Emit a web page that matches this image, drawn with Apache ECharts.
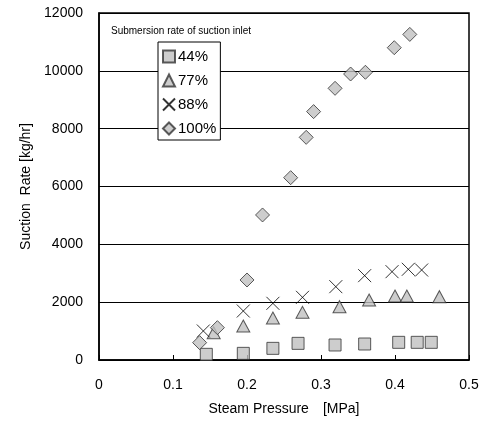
<!DOCTYPE html>
<html><head><meta charset="utf-8">
<script src="https://cdn.jsdelivr.net/npm/echarts@6/dist/echarts.min.js"></script>
<style>html,body{margin:0;padding:0;background:#fff}#c{width:483px;height:421px}</style>
</head><body><div id="c"></div>
<script>
const xTicks = [0, 0.1, 0.2, 0.3, 0.4, 0.5];
const yTicks = [0, 2000, 4000, 6000, 8000, 10000, 12000];
const s44 = [[0.145,196],[0.195,230],[0.235,403],[0.269,576],[0.319,519],[0.359,553],[0.405,611],[0.430,611],[0.449,611]];
const s77 = [[0.155,945],[0.195,1176],[0.235,1452],[0.275,1648],[0.325,1844],[0.365,2075],[0.400,2213],[0.416,2213],[0.460,2190]];
const s88 = [[0.141,1003],[0.195,1694],[0.235,1960],[0.275,2167],[0.320,2536],[0.359,2917],[0.396,3055],[0.418,3137],[0.436,3112]];
const s100 = [[0.136,600],[0.160,1118],[0.200,2767],[0.221,5015],[0.259,6305],[0.280,7700],[0.290,8590],[0.319,9395],[0.340,9890],[0.360,9950],[0.399,10800],[0.420,11260]];
const names = ['44%','77%','88%','100%'];

const font = 'Liberation Sans, Arial, sans-serif';
const gray = '#c0c0c0';
const crossPath = 'path://M0,0L10,10M10,0L0,10';
const chart = echarts.init(document.getElementById('c'));
chart.setOption({
  animation: false,
  grid: {left: 99, right: 14, top: 13, bottom: 61, show: true, borderColor: '#000', borderWidth: 1.5, backgroundColor: 'transparent'},
  xAxis: {
    type: 'value', min: 0, max: 0.5, interval: 0.1,
    name: 'Steam Pressure\u3000[MPa]', nameLocation: 'middle', nameGap: 42,
    nameTextStyle: {color: '#000', fontSize: 14, fontFamily: font},
    axisLine: {lineStyle: {color: '#000', width: 1.5}},
    axisTick: {inside: true, length: 5, lineStyle: {color: '#000'}},
    axisLabel: {color: '#000', fontSize: 14, fontFamily: font, margin: 18, formatter: v => String(xTicks.find(t => Math.abs(t - v) < 1e-9) ?? v)},
    splitLine: {show: false}
  },
  yAxis: {
    type: 'value', min: 0, max: 12000, interval: 2000,
    name: 'Suction  Rate [kg/hr]', nameLocation: 'middle', nameGap: 66,
    nameTextStyle: {color: '#000', fontSize: 14, fontFamily: font},
    axisLine: {lineStyle: {color: '#000', width: 1.5}},
    axisTick: {inside: true, length: 4, lineStyle: {color: '#000'}},
    axisLabel: {color: '#000', fontSize: 14, fontFamily: font, margin: 16, formatter: v => String(yTicks.find(t => t === v) ?? v)},
    splitLine: {show: true, lineStyle: {color: '#000', width: 1}}
  },
  legend: {
    orient: 'vertical', left: 158, top: 42,
    width: 60, padding: [7, 4, 4, 4], itemGap: 9,
    backgroundColor: '#fff', borderColor: '#000', borderWidth: 1,
    itemWidth: 12, itemHeight: 12,
    textStyle: {color: '#000', fontSize: 15, fontFamily: font, padding: [0, 0, 0, -2]},
    data: names
  },
  graphic: [{type: 'text', left: 111, top: 26, style: {text: 'Submersion rate of suction inlet', fill: '#000', font: '10px ' + font}}],
  series: [
    {name: names[0], type: 'scatter', data: s44, symbol: 'rect', symbolSize: 12, z: 2,
     itemStyle: {color: gray, borderColor: '#333', borderWidth: 1}},
    {name: names[1], type: 'scatter', data: s77, symbol: 'triangle', symbolSize: [13, 12], z: 3,
     itemStyle: {color: gray, borderColor: '#333', borderWidth: 1}},
    {name: names[2], type: 'scatter', data: s88, symbol: crossPath, symbolSize: 13, z: 4,
     itemStyle: {color: 'transparent', borderColor: '#000', borderWidth: 1}},
    {name: names[3], type: 'scatter', data: s100, symbol: 'diamond', symbolSize: 14, z: 5,
     itemStyle: {color: gray, borderColor: '#333', borderWidth: 1}}
  ]
});
</script></body></html>
